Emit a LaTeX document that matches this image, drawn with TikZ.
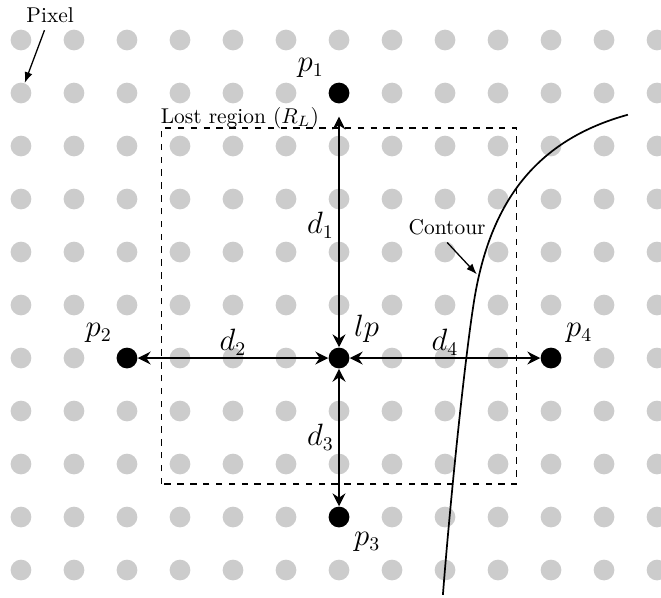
\documentclass[tikz,border=0pt]{standalone}
\usetikzlibrary{positioning,arrows.meta}

\tikzset{
    pixel/.style={circle, fill=black!20, inner sep=0pt, minimum size=0.34cm},
    sample/.style={circle, fill=black, inner sep=0pt, minimum size=0.34cm},
    dist/.style={{Stealth[length=6pt,width=6pt,inset=2pt]}-{Stealth[length=6pt,width=6pt,inset=2pt]}, thick},
    pointer/.style={-{Latex[length=5pt]}, semithick},
    mlabel/.style={font=\fontsize{13.5}{16}\selectfont}
}

\begin{document}
\begin{tikzpicture}[x=0.87cm, y=0.87cm]
            \useasboundingbox (-6.396,-4.509) rectangle (6.075,6.755);

            % Pixel grid
            \foreach \c in {0,...,12}
                \foreach \r in {0,...,10}
                    \node[pixel] (px\c-\r) at (\c-6, 6-\r) {};

            % Lost region
            \draw[dashed, thick] (-3.35,-2.38) rectangle (3.35,4.34);
            \node[anchor=base west, inner sep=0pt] (lostlabel) at (-3.37,4.43) {Lost region ($R_L$)};

            % Lost pixel and its neighbours
            \node[sample] (lp) at (0,0) {};
            \node[sample] (p1) at (0,5) {};
            \node[sample] (p2) at (-4,0) {};
            \node[sample] (p3) at (0,-3) {};
            \node[sample] (p4) at (4,0) {};

            \node[mlabel, above right=0pt of lp] (lplab) {$lp$};
            \node[mlabel, above left=0pt of p1] (p1lab) {$p_1$};
            \node[mlabel, above left=0pt of p2] (p2lab) {$p_2$};
            \node[mlabel, below right=0pt of p3] (p3lab) {$p_3$};
            \node[mlabel, above right=0pt of p4] (p4lab) {$p_4$};

            % Distances
            \draw[dist, shorten >=6pt] (lp) -- (p1) node[mlabel, midway, left, inner sep=2pt] {$d_1$};
            \draw[dist] (lp) -- (p2) node[mlabel, midway, above, inner sep=1pt] {$d_2$};
            \draw[dist] (lp) -- (p3) node[mlabel, midway, left, inner sep=2pt] {$d_3$};
            \draw[dist] (lp) -- (p4) node[mlabel, midway, above, inner sep=1pt] {$d_4$};

            % Contour
            \draw[thick] (1.96,-4.47) .. controls (2.10,-2.67) and (2.374,-0.01) .. (2.55,1.09)
                .. controls (2.85,2.94) and (3.71,4.11) .. (5.45,4.59);
            \coordinate (contourpt) at (2.6,1.58);
            \node (contourlabel) at (2.04,2.47) {Contour};
            \draw[pointer] (contourlabel.south) -- (contourpt);

            % Pixel label
            \node (pixellabel) at (-5.45,6.47) {Pixel};
            \draw[pointer] (pixellabel) -- (px0-1);
        \end{tikzpicture}
\end{document}
